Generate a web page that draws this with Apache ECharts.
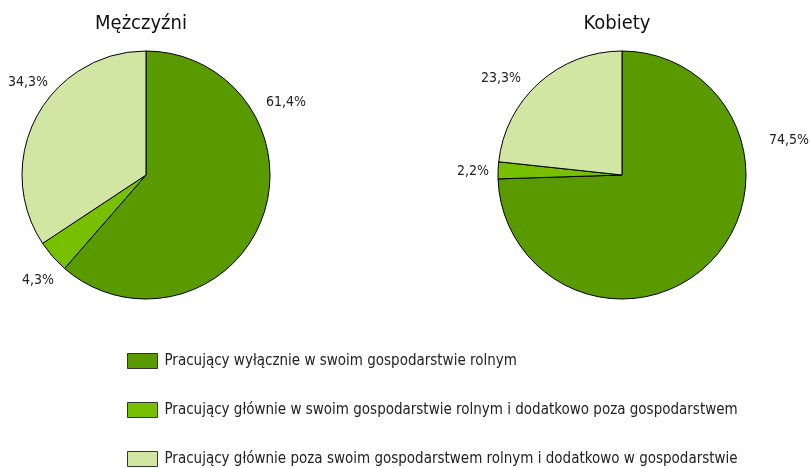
<!DOCTYPE html>
<html>
<head>
<meta charset="utf-8">
<script src="https://cdn.jsdelivr.net/npm/echarts@6/dist/echarts.min.js"></script>
<style>
  html, body { margin: 0; padding: 0; background: #ffffff; }
  #chart { width: 811px; height: 468px; }
</style>
</head>
<body>
<div id="chart"></div>
<script>
// Categories of work on the farm
const categories = [
  'Pracujący wyłącznie w swoim gospodarstwie rolnym',
  'Pracujący głównie w swoim gospodarstwie rolnym i dodatkowo poza gospodarstwem',
  'Pracujący głównie poza swoim gospodarstwem rolnym i dodatkowo w gospodarstwie'
];
const groups = ['Mężczyźni', 'Kobiety'];
// Percent shares for each group
const menValues = [61.4, 4.3, 34.3];
const womenValues = [74.5, 2.2, 23.3];

const colors = ['#589a00', '#77c000', '#d0e6a2'];
const fontFamily = '"Liberation Sans Narrow", "Arial Narrow", "DejaVu Sans Condensed", sans-serif';

// Where each percentage label sits (pixel centre), per pie and slice
const labelSpots = [
  [[286, 102], [38, 280], [28, 82]],
  [[789, 140], [473, 171], [501, 78]]
];

const fmt = v => v.toFixed(1).replace('.', ',') + '%';

function pieSeries(values, center, idx) {
  return {
    type: 'pie',
    center: center,
    radius: 124,
    startAngle: 90,
    clockwise: true,
    avoidLabelOverlap: false,
    silent: true,
    itemStyle: { borderColor: '#000000', borderWidth: 1 },
    label: {
      show: true,
      position: 'outside',
      formatter: p => fmt(p.value),
      color: '#222222',
      fontSize: 14,
      fontFamily: fontFamily
    },
    labelLine: { show: false },
    labelLayout: params => {
      const s = labelSpots[idx][params.dataIndex];
      return { x: s[0], y: s[1], align: 'center', verticalAlign: 'middle' };
    },
    data: categories.map((name, i) => ({
      name: name,
      value: values[i],
      itemStyle: { color: colors[i] }
    }))
  };
}

const chart = echarts.init(document.getElementById('chart'), null, { renderer: 'canvas' });
chart.setOption({
  animation: false,
  backgroundColor: '#ffffff',
  title: [
    { text: groups[0], left: 136, top: 9, textAlign: 'center',
      textStyle: { fontSize: 20, fontWeight: 'normal', color: '#111111', fontFamily: fontFamily } },
    { text: groups[1], left: 612, top: 9, textAlign: 'center',
      textStyle: { fontSize: 20, fontWeight: 'normal', color: '#111111', fontFamily: fontFamily } }
  ],
  legend: {
    orient: 'vertical',
    left: 122,
    top: 348,
    height: 130,
    itemWidth: 30,
    itemHeight: 15,
    itemGap: 33,
    icon: 'rect',
    selectedMode: false,
    itemStyle: { borderColor: '#333333', borderWidth: 1 },
    textStyle: { fontSize: 15, color: '#222222', fontFamily: fontFamily, padding: [0, 0, 0, 2] },
    data: categories
  },
  series: [
    pieSeries(menValues, [146, 175], 0),
    pieSeries(womenValues, [622, 175], 1)
  ]
});
</script>
</body>
</html>
